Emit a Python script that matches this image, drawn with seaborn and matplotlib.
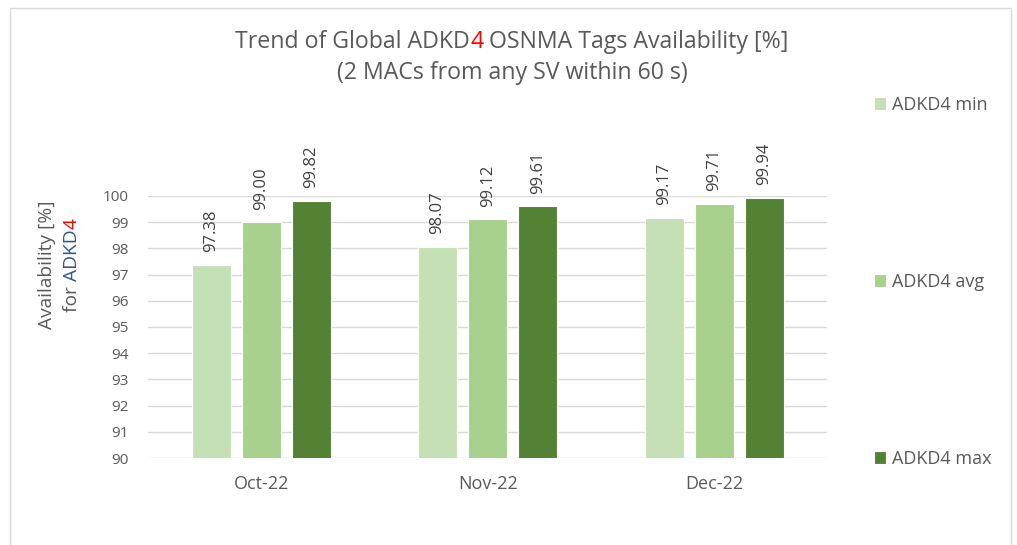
import matplotlib
matplotlib.use("Agg")
import matplotlib.pyplot as plt
import matplotlib.patches as mpatches
import pandas as pd
import seaborn as sns

months = ["Oct-22", "Nov-22", "Dec-22"]
series_names = ["ADKD4 min", "ADKD4 avg", "ADKD4 max"]
adkd4_min = [97.38, 98.07, 99.17]
adkd4_avg = [99.00, 99.12, 99.71]
adkd4_max = [99.82, 99.61, 99.94]
y_ticks = list(range(90, 101))

colors = ["#C5E0B4", "#A9D18E", "#548235"]
text_gray = "#595959"

df = pd.DataFrame({
    "month": months * 3,
    "series": [s for s in series_names for _ in months],
    "value": adkd4_min + adkd4_avg + adkd4_max,
})

sns.set_theme(style="white")
plt.rcParams["font.family"] = ["Open Sans", "DejaVu Sans"]

fig = plt.figure(figsize=(10.17, 5.45), dpi=100)
ax = fig.add_axes([0.1455, 0.1596, 0.668, 0.4808])

# chart frame
fig.patches.append(mpatches.Rectangle((10 / 1017, -0.1), 1001 / 1017, 1.1 - 8 / 545,
                                      transform=fig.transFigure, fill=False,
                                      edgecolor="#D9D9D9", linewidth=1.0))

sns.barplot(data=df, x="month", y="value", hue="series", order=months,
            hue_order=series_names, palette=colors, saturation=1,
            width=0.663, gap=0.22, edgecolor="white", linewidth=0.8,
            ax=ax, legend=True)

ax.set_ylim(90, 100)
ax.set_yticks(y_ticks)
ax.set_xlim(-0.5, 2.5)
ax.grid(axis="y", color="#D9D9D9", linewidth=1.0)
ax.set_axisbelow(True)
for sp in ax.spines.values():
    sp.set_visible(False)
ax.tick_params(axis="y", length=0, pad=14, labelsize=11, labelcolor=text_gray)
ax.tick_params(axis="x", length=0, pad=12, labelsize=13, labelcolor=text_gray)
ax.set_xlabel("")
ax.set_ylabel("")

for cont in ax.containers:
    ax.bar_label(cont, fmt="%.2f", rotation=90, padding=9, fontsize=12,
                 color="#404040")

# legend on the right, entries spread down the side
handles, labels = ax.get_legend_handles_labels()
ax.legend(handles, labels, loc="upper left", bbox_to_anchor=(874 / 1017, 1 - 96 / 545),
          bbox_transform=fig.transFigure, frameon=False, fontsize=13,
          labelcolor=text_gray, handlelength=0.68, handleheight=0.68,
          handletextpad=0.3, labelspacing=8.8, borderaxespad=0, borderpad=0)

fig.canvas.draw()
renderer = fig.canvas.get_renderer()


def row_text(pieces, xc, y, size, rotation=0):
    """Place coloured text pieces side by side, centred on xc (figure px)."""
    objs = []
    for s, c in pieces:
        objs.append(fig.text(0, 0, s, color=c, fontsize=size, rotation=rotation,
                             ha="left", va="center", transform=None))
    if rotation == 0:
        widths = [o.get_window_extent(renderer).width for o in objs]
        x = xc - sum(widths) / 2
        for o, w in zip(objs, widths):
            o.set_position((x, y))
            x += w
    else:
        heights = [o.get_window_extent(renderer).height for o in objs]
        yy = y - sum(heights) / 2
        for o, h in zip(objs, heights):
            o.set_ha("center")
            o.set_va("bottom")
            o.set_position((xc, yy))
            yy += h
    return objs


H = 545
row_text([("Trend of Global ADKD", text_gray), ("4", "#FF0000"),
          (" OSNMA Tags Availability [%]", text_gray)], 512, H - 42, 16.7)
row_text([("(2 MACs from any SV within 60 s)", text_gray)], 512, H - 73, 16.7)

row_text([("Availability [%]", text_gray)], 47, H - 265, 13.8, rotation=90)
row_text([("for ", text_gray), ("ADKD", "#2F5597"), ("4", "#FF0000")],
         72, H - 265, 13.8, rotation=90)

fig.savefig("out.png", dpi=100)
